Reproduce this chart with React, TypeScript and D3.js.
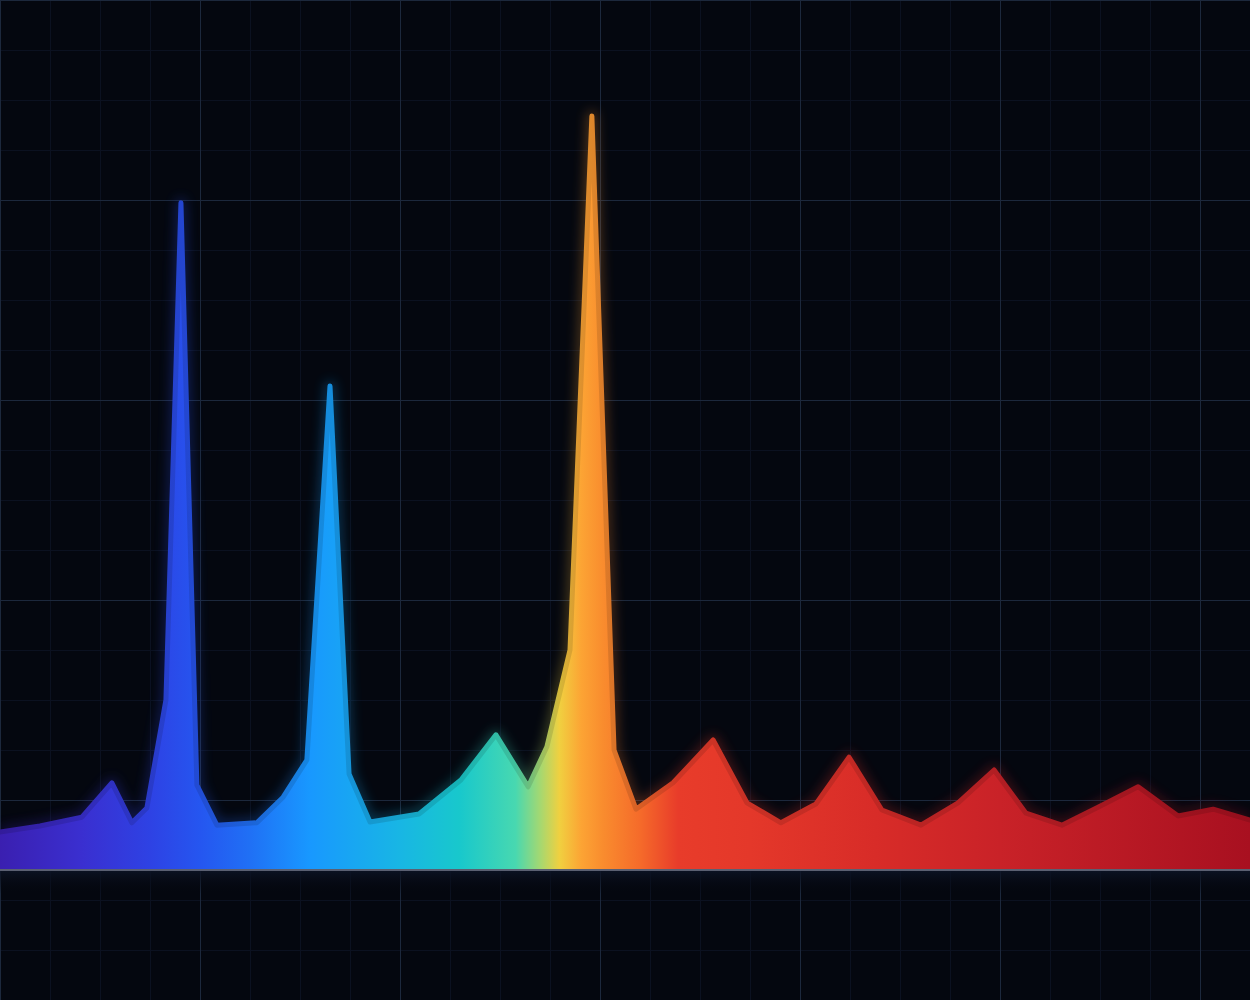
import React from 'react';
import * as d3 from 'd3';

// emission spectrum, wavelength in nm / relative intensity
const wavelengths = [
  380, 392.8, 406.2, 415.8, 422.2, 427.0, 433.1, 437.9, 443.0, 449.4,
  462.2, 470.6, 478.2, 485.6, 491.7, 498.4, 514.1, 527.5, 538.7, 549.0,
  555.0, 562.4, 569.4, 576.5, 583.5, 595.4, 608.2, 619.0, 629.9, 641.1,
  651.7, 662.2, 674.7, 686.6, 698.1, 708.3, 719.8, 731.7, 744.2, 757.0,
  768.2, 780,
];
const intensity = [
  4.75, 5.5, 6.6, 10.9, 5.9, 7.75, 21.25, 83.4, 10.6, 5.6,
  5.9, 9.1, 13.75, 60.5, 12.0, 6.0, 7.0, 11.25, 16.9, 10.4,
  15.4, 27.5, 94.25, 15.0, 7.6, 10.9, 16.25, 8.4, 5.9, 8.25,
  14.1, 7.5, 5.6, 8.4, 12.5, 7.1, 5.6, 7.9, 10.4, 6.75,
  7.6, 6.25,
];

// colour of the light at each wavelength
const stopWavelengths = [380, 406, 428, 444, 460, 479, 508, 527, 545, 553, 559, 566, 573, 585, 597, 620, 660, 700, 780];
const stopColours = [
  '#3a1fb0', '#3a2fd0', '#2e42e4', '#2556f0', '#2070f5', '#1898ff', '#18b6e4', '#18c8cc',
  '#48d8b0', '#a6d870', '#f0d040', '#fca434', '#f98c2e', '#f56a2a', '#e83c2a', '#e4382a',
  '#d82c28', '#c92228', '#a81020',
];

const W = 1250;
const H = 1000;

type Pt = { wl: number; v: number };

const App: React.FC = () => {
  React.useEffect(() => {
    document.body.style.margin = '0';
    document.body.style.background = '#04070f';
  }, []);

  const data: Pt[] = wavelengths.map((wl, i) => ({ wl, v: intensity[i] }));

  const x = d3.scaleLinear().domain([380, 780]).range([0, W]);
  const y = d3.scaleLinear().domain([0, 100]).range([870, 70]);

  const area = d3
    .area<Pt>()
    .x((d) => x(d.wl))
    .y0(y(0))
    .y1((d) => y(d.v));
  const line = d3
    .line<Pt>()
    .x((d) => x(d.wl))
    .y((d) => y(d.v));

  const minor = d3.range(0, W + 1, 50);
  const minorY = d3.range(0, H + 1, 50);
  const majorX = d3.range(0, W + 1, 200);
  const majorY = d3.range(0, H + 1, 200);

  const stops = stopWavelengths.map((wl, i) => ({
    offset: (x(wl) / W) * 100,
    colour: stopColours[i],
  }));

  return (
    <svg width={W} height={H} style={{ display: 'block', position: 'absolute', left: 0, top: 0 }}>
      <defs>
        <linearGradient id="spec" gradientUnits="userSpaceOnUse" x1={0} x2={W} y1={0} y2={0}>
          {stops.map((s, i) => (
            <stop key={i} offset={`${s.offset}%`} stopColor={s.colour} />
          ))}
        </linearGradient>
        <linearGradient id="specDark" gradientUnits="userSpaceOnUse" x1={0} x2={W} y1={0} y2={0}>
          {stops.map((s, i) => (
            <stop key={i} offset={`${s.offset}%`} stopColor={d3.color(s.colour)!.darker(0.35).formatHex()} />
          ))}
        </linearGradient>
        <linearGradient id="under" x1={0} x2={0} y1={0} y2={1}>
          <stop offset="0%" stopColor="#0c1426" stopOpacity={0.9} />
          <stop offset="100%" stopColor="#04070f" stopOpacity={0} />
        </linearGradient>
        <filter id="glow" x="-20%" y="-20%" width="140%" height="140%">
          <feGaussianBlur stdDeviation="6" />
        </filter>
      </defs>

      <rect width={W} height={H} fill="#04070f" />

      <g>
        {minor.map((v) => (
          <line key={'mx' + v} x1={v + 0.5} x2={v + 0.5} y1={0} y2={H} stroke="#0b1120" strokeWidth={1} />
        ))}
        {minorY.map((v) => (
          <line key={'my' + v} x1={0} x2={W} y1={v + 0.5} y2={v + 0.5} stroke="#0b1120" strokeWidth={1} />
        ))}
        {majorX.map((v) => (
          <line key={'Mx' + v} x1={v + 0.5} x2={v + 0.5} y1={0} y2={H} stroke="#1c283c" strokeWidth={1} />
        ))}
        {majorY.map((v) => (
          <line key={'My' + v} x1={0} x2={W} y1={v + 0.5} y2={v + 0.5} stroke="#1c283c" strokeWidth={1} />
        ))}
      </g>

      <rect x={0} y={y(0)} width={W} height={24} fill="url(#under)" />

      <path
        d={line(data)!}
        fill="none"
        stroke="url(#spec)"
        strokeWidth={10}
        strokeLinejoin="round"
        opacity={0.3}
        filter="url(#glow)"
      />
      <path d={area(data)!} fill="url(#spec)" />
      <path
        d={line(data)!}
        fill="none"
        stroke="url(#specDark)"
        strokeWidth={5}
        strokeLinejoin="round"
        strokeLinecap="round"
      />

      <line x1={0} x2={W} y1={y(0)} y2={y(0)} stroke="#5a6072" strokeWidth={2} />
    </svg>
  );
};

export default App;
